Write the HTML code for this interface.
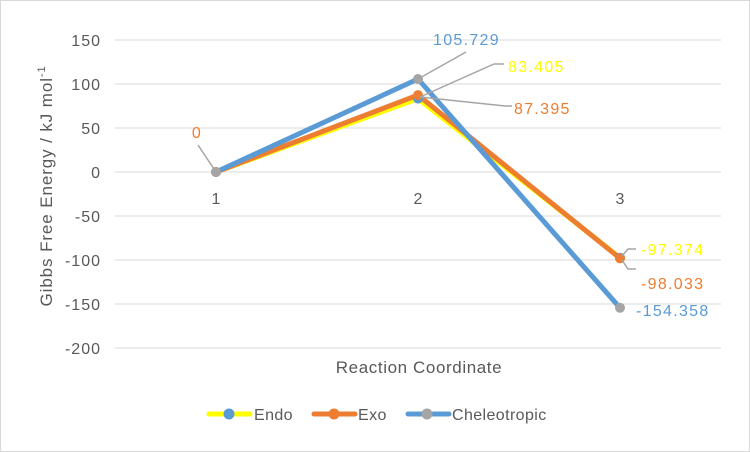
<!DOCTYPE html>
<html><head><style>body{margin:0;background:#fff}svg{display:block}text{font-family:"Liberation Sans",sans-serif}</style></head><body>
<svg width="750" height="452" viewBox="0 0 750 452">
<rect x="0.5" y="0.5" width="749" height="451" fill="#fff" stroke="#d9d9d9"/>
<g stroke="#d9d9d9" stroke-width="1">
<line x1="115" x2="721" y1="40" y2="40"/><line x1="115" x2="721" y1="84" y2="84"/>
<line x1="115" x2="721" y1="128" y2="128"/><line x1="115" x2="721" y1="172" y2="172"/>
<line x1="115" x2="721" y1="216" y2="216"/><line x1="115" x2="721" y1="260" y2="260"/>
<line x1="115" x2="721" y1="304" y2="304"/><line x1="115" x2="721" y1="348" y2="348"/>
</g>
<g font-size="16" fill="#595959" text-anchor="end" letter-spacing="1">
<text x="101" y="46">150</text><text x="101" y="90">100</text><text x="101" y="134">50</text>
<text x="101" y="178">0</text><text x="101" y="222">-50</text><text x="101" y="266">-100</text>
<text x="101" y="310">-150</text><text x="101" y="354">-200</text>
</g>
<g font-size="16" fill="#595959" text-anchor="middle">
<text x="216" y="204">1</text><text x="418" y="204">2</text><text x="620" y="204">3</text>
</g>
<text x="419" y="373" font-size="17" fill="#595959" text-anchor="middle" letter-spacing="0.6">Reaction Coordinate</text>
<text transform="translate(52,186) rotate(-90)" font-size="17" fill="#595959" text-anchor="middle" letter-spacing="0.9">Gibbs Free Energy / kJ mol<tspan font-size="11" dy="-7">-1</tspan></text>
<g fill="none" stroke-width="5" stroke-linejoin="round">
<polyline stroke="#ffff00" points="216,172 418,98.6 620,257.7"/>
<polyline stroke="#ed7d31" points="216,172 418,95.1 620,258.3"/>
<polyline stroke="#5b9bd5" points="216,172 418,79 620,307.8"/>
</g>
<g>
<circle cx="216" cy="172" r="5" fill="#5b9bd5"/><circle cx="418" cy="98.6" r="5" fill="#5b9bd5"/><circle cx="620" cy="257.7" r="5" fill="#5b9bd5"/>
<circle cx="216" cy="172" r="5" fill="#ed7d31"/><circle cx="418" cy="95.1" r="5" fill="#ed7d31"/><circle cx="620" cy="258.3" r="5" fill="#ed7d31"/>
<circle cx="216" cy="172" r="5" fill="#a5a5a5"/><circle cx="418" cy="79" r="5" fill="#a5a5a5"/><circle cx="620" cy="307.8" r="5" fill="#a5a5a5"/>
</g>
<g stroke="#a5a5a5" stroke-width="1.5" fill="none">
<polyline points="216,172 198,145"/>
<polyline points="418,79 466,52"/>
<polyline points="420,97 494,64 504,64"/>
<polyline points="420,97 505,106 512,106"/>
<polyline points="622,256 628,249 636,249"/>
<polyline points="622,260 628,269 636,269"/>
</g>
<g font-size="16" letter-spacing="1.3">
<text x="197" y="138" fill="#ed7d31" text-anchor="middle">0</text>
<text x="433" y="45" fill="#5b9bd5">105.729</text>
<text x="508" y="72" fill="#ffff00">83.405</text>
<text x="514" y="114" fill="#ed7d31">87.395</text>
<text x="641" y="255" fill="#ffff00">-97.374</text>
<text x="641" y="289" fill="#ed7d31">-98.033</text>
<text x="636" y="316" fill="#5b9bd5">-154.358</text>
</g>
<g stroke-width="5" stroke-linecap="round">
<line x1="209" x2="250" y1="414" y2="414" stroke="#ffff00"/>
<line x1="314" x2="355" y1="414" y2="414" stroke="#ed7d31"/>
<line x1="408" x2="449" y1="414" y2="414" stroke="#5b9bd5"/>
</g>
<circle cx="229" cy="414" r="5.5" fill="#5b9bd5"/>
<circle cx="334" cy="414" r="5.5" fill="#ed7d31"/>
<circle cx="427" cy="414" r="5.5" fill="#a5a5a5"/>
<g font-size="16" fill="#595959" letter-spacing="0.4">
<text x="254" y="420">Endo</text><text x="358" y="420">Exo</text><text x="452" y="420">Cheleotropic</text>
</g>
</svg>
</body></html>
